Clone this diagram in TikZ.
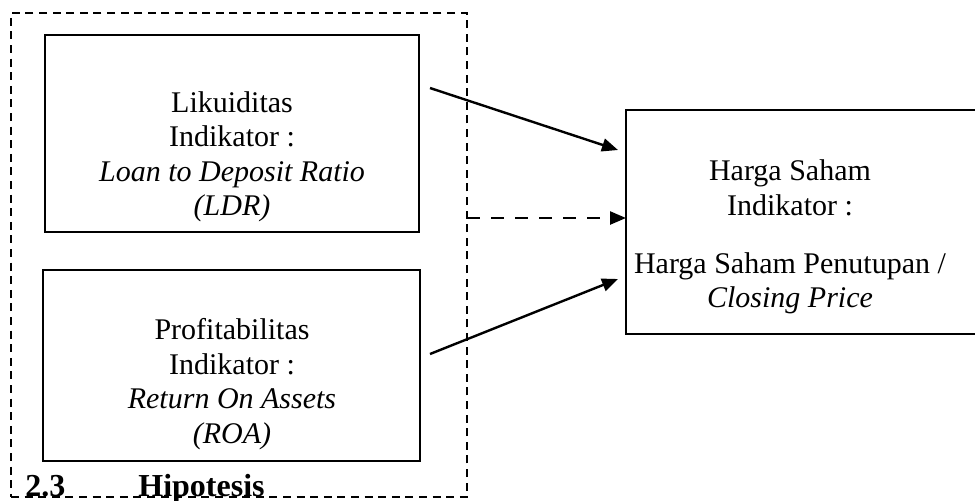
\documentclass[tikz,border=0pt]{standalone}
\usepackage{fontspec}
\setmainfont{Liberation Serif}
\usetikzlibrary{arrows.meta}
\begin{document}
\begin{tikzpicture}[x=0.5pt,y=-0.5pt,
  box/.style={draw,line width=1.3pt,inner sep=0pt},
  txt/.style={align=center,font=\fontsize{15}{17.25}\selectfont,inner sep=0pt},
  grpline/.style={draw,line width=0.7pt,dash pattern=on 4pt off 2.8pt,inner sep=0pt},
  head/.style={font=\bfseries\fontsize{16}{19}\selectfont,anchor=base west,inner sep=0pt},
  conn/.style={line width=1.2pt,-{Triangle[length=8pt,width=6.5pt]}},
  dconn/.style={conn,dash pattern=on 6.5pt off 5.5pt},
]
\useasboundingbox (0,0) rectangle (975,500);
% outer dashed group
\node[grpline,minimum width=228pt,minimum height=242pt] (grp) at (239,255) {};
% boxes
\node[box,minimum width=187pt,minimum height=98.5pt] (b1) at (232,133.5) {};
\node[box,minimum width=188.5pt,minimum height=95.5pt] (b2) at (231.5,365.5) {};
\node[box,minimum width=182pt,minimum height=112pt] (hs) at (808,222) {};
% texts
\node[txt] (t1) at (232,157) {Likuiditas\\Indikator :\\\textit{Loan to Deposit Ratio}\\\textit{(LDR)}};
\node[txt] (t2) at (232,384) {Profitabilitas\\Indikator :\\\textit{Return On Assets}\\\textit{(ROA)}};
\node[txt] (t3) at (790,237) {Harga Saham\\Indikator :\\[11.75pt]Harga Saham Penutupan /\\\textit{Closing Price}};
% heading
\node[head] (h1) at (25,496) {2.3};
\node[head] (h2) at (138,496) {Hipotesis};
% connectors
\coordinate (a1s) at (430,88);
\coordinate (a1e) at (618,150);
\coordinate (a2s) at (467,218);
\coordinate (a2e) at (626,218);
\coordinate (a3s) at (430,354);
\coordinate (a3e) at (618,279);
\draw[conn] (a1s) -- (a1e);
\draw[dconn] (a2s) -- (a2e);
\draw[conn] (a3s) -- (a3e);
\end{tikzpicture}
\end{document}
